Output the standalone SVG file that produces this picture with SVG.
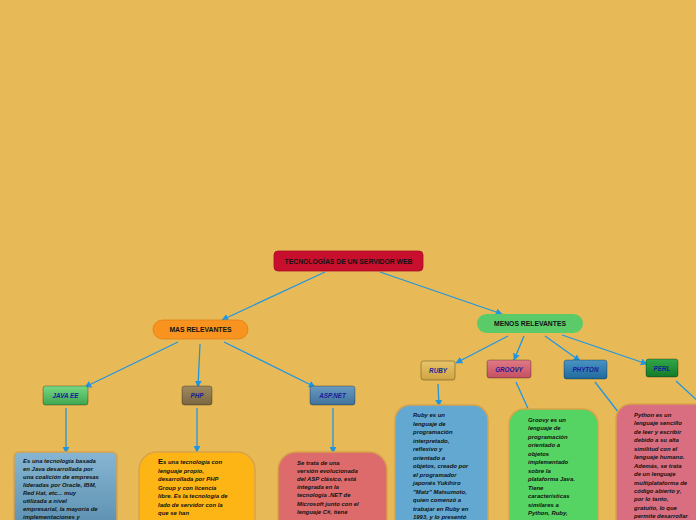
<svg xmlns="http://www.w3.org/2000/svg" width="696" height="520" viewBox="0 0 696 520">
<defs>
<style>
.bg{fill:#E8BA57}
.main{font-family:"Liberation Sans",Arial,sans-serif;font-weight:bold;font-size:6.8px;fill:#111;text-anchor:middle}
.leaf{font-family:"Liberation Sans",Arial,sans-serif;font-weight:bold;font-style:italic;font-size:6.3px;fill:#1a1a9a;text-anchor:middle}
.desc{font-family:"Liberation Sans",Arial,sans-serif;font-weight:bold;font-style:italic;font-size:5.95px;fill:#111}
.con{stroke:#2196E0;stroke-width:1.3;fill:none}
.lb{stroke:#000;stroke-opacity:0.3;stroke-width:1}
.box{stroke:#d9a34a;stroke-width:1.5}
</style>
<marker id="ah" viewBox="0 0 10 10" refX="9" refY="5" markerWidth="7" markerHeight="7" orient="auto-start-reverse" markerUnits="userSpaceOnUse">
<path d="M0,0 L10,5 L0,10 z" fill="#2196E0"/>
</marker>
<linearGradient id="gJava" x1="0" y1="0" x2="0" y2="1"><stop offset="0" stop-color="#78d884"/><stop offset="1" stop-color="#3da64e"/></linearGradient>
<linearGradient id="gPhp" x1="0" y1="0" x2="0" y2="1"><stop offset="0" stop-color="#a08a60"/><stop offset="1" stop-color="#7a6640"/></linearGradient>
<linearGradient id="gAsp" x1="0" y1="0" x2="0" y2="1"><stop offset="0" stop-color="#6a9ac0"/><stop offset="1" stop-color="#3f729c"/></linearGradient>
<linearGradient id="gRuby" x1="0" y1="0" x2="0" y2="1"><stop offset="0" stop-color="#e8c468"/><stop offset="1" stop-color="#cfa444"/></linearGradient>
<linearGradient id="gGroovy" x1="0" y1="0" x2="0" y2="1"><stop offset="0" stop-color="#e07a86"/><stop offset="1" stop-color="#c45060"/></linearGradient>
<linearGradient id="gPhyton" x1="0" y1="0" x2="0" y2="1"><stop offset="0" stop-color="#4a94c4"/><stop offset="1" stop-color="#1e6a9c"/></linearGradient>
<linearGradient id="gPerl" x1="0" y1="0" x2="0" y2="1"><stop offset="0" stop-color="#30a848"/><stop offset="1" stop-color="#147a28"/></linearGradient>
<linearGradient id="gJavaBox" x1="0" y1="0" x2="0" y2="1"><stop offset="0" stop-color="#86b6d2"/><stop offset="1" stop-color="#5a8eae"/></linearGradient>
</defs>
<rect class="bg" x="0" y="0" width="696" height="520"/>

<g id="connectors">
<line class="con" x1="325" y1="272" x2="222" y2="320" marker-end="url(#ah)"/>
<line class="con" x1="380" y1="272" x2="502" y2="314" marker-end="url(#ah)"/>
<line class="con" x1="178" y1="342" x2="85" y2="387" marker-end="url(#ah)"/>
<line class="con" x1="200" y1="344" x2="198" y2="387" marker-end="url(#ah)"/>
<line class="con" x1="224" y1="342" x2="315" y2="387" marker-end="url(#ah)"/>
<line class="con" x1="508" y1="336" x2="456" y2="363" marker-end="url(#ah)"/>
<line class="con" x1="524" y1="336" x2="514" y2="360" marker-end="url(#ah)"/>
<line class="con" x1="545" y1="336" x2="580" y2="361" marker-end="url(#ah)"/>
<line class="con" x1="562" y1="335" x2="647" y2="364" marker-end="url(#ah)"/>
<line class="con" x1="66" y1="408" x2="66" y2="453" marker-end="url(#ah)"/>
<line class="con" x1="197" y1="408" x2="197" y2="452" marker-end="url(#ah)"/>
<line class="con" x1="333" y1="408" x2="333" y2="453" marker-end="url(#ah)"/>
<line class="con" x1="438" y1="384" x2="439" y2="406" marker-end="url(#ah)"/>
<line class="con" x1="516" y1="382" x2="530" y2="413"/>
<line class="con" x1="595" y1="382" x2="622" y2="417"/>
<line class="con" x1="676" y1="381" x2="700" y2="403"/>
</g>

<g id="root">
<rect x="274" y="251" width="149" height="20" rx="4" fill="#C8102E" stroke="#a80c26" stroke-width="0.8"/>
<text class="main" x="348.5" y="263.5">TECNOLOGÍAS DE UN SERVIDOR WEB</text>
</g>

<g id="mas-relevantes">
<rect x="153" y="320" width="95" height="19" rx="9.5" fill="#F7931E" stroke="#e0801a" stroke-width="0.8"/>
<text class="main" x="200.5" y="332.2">MAS RELEVANTES</text>
</g>

<g id="menos-relevantes">
<rect x="477" y="314" width="106" height="19" rx="9.5" fill="#5BCB6A"/>
<text class="main" x="530" y="326.2">MENOS RELEVANTES</text>
</g>

<g id="java-ee">
<rect class="lb" x="43" y="386" width="45" height="19" rx="2.5" fill="url(#gJava)"/>
<text class="leaf" x="65.5" y="397.8">JAVA EE</text>
</g>
<g id="php">
<rect class="lb" x="182" y="386" width="30" height="19" rx="2.5" fill="url(#gPhp)"/>
<text class="leaf" x="197" y="397.8">PHP</text>
</g>
<g id="asp-net">
<rect class="lb" x="310" y="386" width="45" height="19" rx="2.5" fill="url(#gAsp)"/>
<text class="leaf" x="332.5" y="397.8">ASP.NET</text>
</g>
<g id="ruby">
<rect class="lb" x="421" y="361" width="34" height="19" rx="2.5" fill="url(#gRuby)"/>
<text class="leaf" x="438" y="372.8">RUBY</text>
</g>
<g id="groovy">
<rect class="lb" x="487" y="360" width="44" height="18" rx="2.5" fill="url(#gGroovy)"/>
<text class="leaf" x="509" y="371.5">GROOVY</text>
</g>
<g id="phyton">
<rect class="lb" x="564" y="360" width="43" height="19" rx="2.5" fill="url(#gPhyton)"/>
<text class="leaf" x="585.5" y="371.8">PHYTON</text>
</g>
<g id="perl">
<rect class="lb" x="646" y="359" width="32" height="18" rx="2.5" fill="url(#gPerl)"/>
<text class="leaf" x="662" y="370.5">PERL</text>
</g>

<g id="java-desc">
<rect class="box" x="14" y="452" width="103" height="80" rx="5" fill="url(#gJavaBox)"/>
<text class="desc">
<tspan x="23" y="463">Es una tecnología basada</tspan>
<tspan x="23" y="471">en Java desarrollada por</tspan>
<tspan x="23" y="479">una coalición de empresas</tspan>
<tspan x="23" y="487">lideradas por Oracle, IBM,</tspan>
<tspan x="23" y="495">Red Hat, etc... muy</tspan>
<tspan x="23" y="503">utilizada a nivel</tspan>
<tspan x="23" y="511">empresarial, la mayoría de</tspan>
<tspan x="23" y="519">implementaciones y</tspan>
</text>
</g>

<g id="php-desc">
<rect class="box" x="139" y="452" width="116" height="90" rx="18" fill="#FDB515"/>
<text class="desc">
<tspan x="158" y="464"><tspan font-size="7.5px" font-style="normal">E</tspan>s una tecnología con</tspan>
<tspan x="158" y="472.5">lenguaje propio,</tspan>
<tspan x="158" y="481">desarrollada por PHP</tspan>
<tspan x="158" y="489.5">Group y con licencia</tspan>
<tspan x="158" y="498">libre. Es la tecnología de</tspan>
<tspan x="158" y="506.5">lado de servidor con la</tspan>
<tspan x="158" y="515">que se han</tspan>
</text>
</g>

<g id="asp-desc">
<rect class="box" x="278" y="452" width="109" height="90" rx="18" fill="#DE6B6B"/>
<text class="desc">
<tspan x="297" y="465">Se trata de una</tspan>
<tspan x="297" y="473">versión evolucionada</tspan>
<tspan x="297" y="481">del ASP clásico, está</tspan>
<tspan x="297" y="489">integrada en la</tspan>
<tspan x="297" y="497">tecnología .NET de</tspan>
<tspan x="297" y="505.5">Microsoft junto con el</tspan>
<tspan x="297" y="514">lenguaje C#, tiene</tspan>
</text>
</g>

<g id="ruby-desc">
<rect class="box" x="395" y="405" width="93" height="130" rx="15" fill="#63A8D0"/>
<text class="desc">
<tspan x="413" y="417">Ruby es un</tspan>
<tspan x="413" y="425.5">lenguaje de</tspan>
<tspan x="413" y="434">programación</tspan>
<tspan x="413" y="442.5">interpretado,</tspan>
<tspan x="413" y="451">reflexivo y</tspan>
<tspan x="413" y="459.5">orientado a</tspan>
<tspan x="413" y="468">objetos, creado por</tspan>
<tspan x="413" y="476.5">el programador</tspan>
<tspan x="413" y="485">japonés Yukihiro</tspan>
<tspan x="413" y="493.5">"Matz" Matsumoto,</tspan>
<tspan x="413" y="502">quien comenzó a</tspan>
<tspan x="413" y="510.5">trabajar en Ruby en</tspan>
<tspan x="413" y="519">1993, y lo presentó</tspan>
</text>
</g>

<g id="groovy-desc">
<rect class="box" x="509" y="409" width="89" height="125" rx="15" fill="#55D463"/>
<text class="desc">
<tspan x="528" y="421.5">Groovy es un</tspan>
<tspan x="528" y="430">lenguaje de</tspan>
<tspan x="528" y="438.5">programación</tspan>
<tspan x="528" y="447">orientado a</tspan>
<tspan x="528" y="455.5">objetos</tspan>
<tspan x="528" y="464">implementado</tspan>
<tspan x="528" y="472.5">sobre la</tspan>
<tspan x="528" y="481">plataforma Java.</tspan>
<tspan x="528" y="489.5">Tiene</tspan>
<tspan x="528" y="498">características</tspan>
<tspan x="528" y="506.5">similares a</tspan>
<tspan x="528" y="515">Python, Ruby,</tspan>
</text>
</g>

<g id="python-desc">
<rect class="box" x="616" y="404" width="95" height="130" rx="15" fill="#D96E80"/>
<text class="desc">
<tspan x="634" y="416.5">Python es un</tspan>
<tspan x="634" y="425">lenguaje sencillo</tspan>
<tspan x="634" y="433.5">de leer y escribir</tspan>
<tspan x="634" y="442">debido a su alta</tspan>
<tspan x="634" y="450.5">similitud con el</tspan>
<tspan x="634" y="459">lenguaje humano.</tspan>
<tspan x="634" y="467.5">Además, se trata</tspan>
<tspan x="634" y="476">de un lenguaje</tspan>
<tspan x="634" y="484.5">multiplataforma de</tspan>
<tspan x="634" y="493">código abierto y,</tspan>
<tspan x="634" y="501">por lo tanto,</tspan>
<tspan x="634" y="509.5">gratuito, lo que</tspan>
<tspan x="634" y="518">permite desarrollar</tspan>
</text>
</g>
</svg>
